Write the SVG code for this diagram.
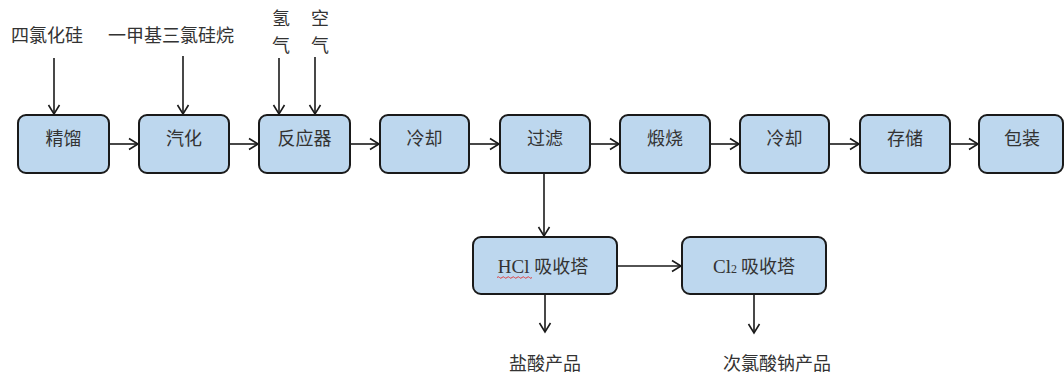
<svg xmlns="http://www.w3.org/2000/svg" width="1064" height="376" viewBox="0 0 1064 376">
<style>
.box{fill:#BDD7EE;stroke:#1a1a1a;stroke-width:2}
.t{font-family:"Noto Sans CJK SC","Noto Sans",sans-serif;font-size:18px;fill:#333;text-anchor:middle}
.lat{font-family:"Liberation Serif",serif}
.c{stroke:#1a1a1a;stroke-width:1.6;fill:none}
</style>
<defs>
<marker id="ah" markerUnits="userSpaceOnUse" markerWidth="12" markerHeight="14" refX="10" refY="7" orient="auto">
<path d="M1,1.5 L10,7 L1,12.5" fill="none" stroke="#1a1a1a" stroke-width="1.6"/>
</marker>
</defs>
<rect width="1064" height="376" fill="#fff"/>
<g id="connectors">
<line class="c" x1="54" y1="58" x2="54" y2="114" marker-end="url(#ah)"/>
<line class="c" x1="183" y1="56" x2="183" y2="114" marker-end="url(#ah)"/>
<line class="c" x1="279" y1="58" x2="279" y2="114" marker-end="url(#ah)"/>
<line class="c" x1="315" y1="57" x2="315" y2="114" marker-end="url(#ah)"/>
<line class="c" x1="109" y1="144" x2="138" y2="144" marker-end="url(#ah)"/>
<line class="c" x1="229" y1="144" x2="258" y2="144" marker-end="url(#ah)"/>
<line class="c" x1="350" y1="144" x2="379" y2="144" marker-end="url(#ah)"/>
<line class="c" x1="469" y1="144" x2="499" y2="144" marker-end="url(#ah)"/>
<line class="c" x1="590" y1="144" x2="619" y2="144" marker-end="url(#ah)"/>
<line class="c" x1="710" y1="144" x2="739" y2="144" marker-end="url(#ah)"/>
<line class="c" x1="829" y1="144" x2="859" y2="144" marker-end="url(#ah)"/>
<line class="c" x1="950" y1="144" x2="978" y2="144" marker-end="url(#ah)"/>
<line class="c" x1="544" y1="173" x2="544" y2="236" marker-end="url(#ah)"/>
<line class="c" x1="617" y1="266" x2="681" y2="266" marker-end="url(#ah)"/>
<line class="c" x1="545" y1="294" x2="545" y2="332" marker-end="url(#ah)"/>
<line class="c" x1="754" y1="294" x2="754" y2="333" marker-end="url(#ah)"/>
</g>
<g id="label-sicl4"><text class="t" x="47" y="42">四氯化硅</text></g>
<g id="label-mtcs"><text class="t" x="171" y="42">一甲基三氯硅烷</text></g>
<g id="label-h2"><text class="t" x="281" y="25">氢</text><text class="t" x="281" y="52">气</text></g>
<g id="label-air"><text class="t" x="320" y="25">空</text><text class="t" x="320" y="52">气</text></g>
<g id="n1"><rect class="box" x="18" y="115" width="91" height="58" rx="8"/><text class="t" x="63.5" y="145">精馏</text></g>
<g id="n2"><rect class="box" x="139" y="115" width="90" height="58" rx="8"/><text class="t" x="184" y="145">汽化</text></g>
<g id="n3"><rect class="box" x="259" y="115" width="91" height="58" rx="8"/><text class="t" x="304.5" y="145">反应器</text></g>
<g id="n4"><rect class="box" x="380" y="115" width="89" height="58" rx="8"/><text class="t" x="424.5" y="145">冷却</text></g>
<g id="n5"><rect class="box" x="500" y="115" width="90" height="58" rx="8"/><text class="t" x="545" y="145">过滤</text></g>
<g id="n6"><rect class="box" x="620" y="115" width="90" height="58" rx="8"/><text class="t" x="665" y="145">煅烧</text></g>
<g id="n7"><rect class="box" x="740" y="115" width="89" height="58" rx="8"/><text class="t" x="784.5" y="145">冷却</text></g>
<g id="n8"><rect class="box" x="860" y="115" width="90" height="58" rx="8"/><text class="t" x="905" y="145">存储</text></g>
<g id="n9"><rect class="box" x="979" y="115" width="84" height="58" rx="8"/><text class="t" x="1022" y="145">包装</text></g>
<g id="n10"><rect class="box" x="473" y="237" width="144" height="57" rx="8"/>
<text class="t" x="543" y="273"><tspan class="lat" font-size="19">HCl </tspan>吸收塔</text>
<path d="M497,277.5 q1.25,-1.5 2.5,0 t2.5,0 t2.5,0 t2.5,0 t2.5,0 t2.5,0 t2.5,0 t2.5,0 t2.5,0 t2.5,0 t2.5,0 t2.5,0 t2.5,0 t2.5,0" fill="none" stroke="#e03030" stroke-width="0.9"/>
</g>
<g id="n11"><rect class="box" x="682" y="237" width="144" height="57" rx="8"/>
<text class="t" x="754" y="273"><tspan class="lat" font-size="19">Cl</tspan><tspan class="lat" font-size="12">2</tspan> 吸收塔</text></g>
<g id="label-hcl"><text class="t" x="545" y="370">盐酸产品</text></g>
<g id="label-naclo"><text class="t" x="777" y="370">次氯酸钠产品</text></g>
</svg>
